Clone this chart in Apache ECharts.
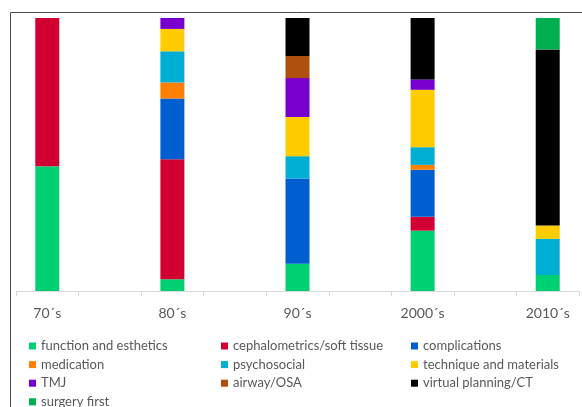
<!DOCTYPE html>
<html>
<head>
<meta charset="utf-8">
<script src="https://cdn.jsdelivr.net/npm/echarts@6/dist/echarts.min.js"></script>
<style>
  html, body { margin: 0; padding: 0; background: #fff; }
  #chart { width: 582px; height: 407px; }
</style>
</head>
<body>
<div id="chart"></div>
<script>
// Decades, with blank spacer slots between them on the axis
const categories = ['70´s', '', '80´s', '', '90´s', '', '2000´s', '', '2010´s'];

// Share of publications per topic in each decade (%), '-' for spacer slots
const functionEsthetics  = [45.7, '-', 4.3,  '-', 10.0, '-', 22.1, '-', 5.9];
const cephalometrics     = [54.3, '-', 44.0, '-', 0,    '-', 5.1,  '-', 0];
const complications      = [0,    '-', 22.2, '-', 31.2, '-', 17.2, '-', 0];
const medication         = [0,    '-', 5.9,  '-', 0,    '-', 1.8,  '-', 0];
const psychosocial       = [0,    '-', 11.4, '-', 8.2,  '-', 6.5,  '-', 13.2];
const techniqueMaterials = [0,    '-', 8.2,  '-', 14.3, '-', 21.0, '-', 4.9];
const tmj                = [0,    '-', 4.0,  '-', 14.3, '-', 3.8,  '-', 0];
const airwayOsa          = [0,    '-', 0,    '-', 8.1,  '-', 0,    '-', 0];
const virtualPlanning    = [0,    '-', 0,    '-', 13.9, '-', 22.5, '-', 64.5];
const surgeryFirst       = [0,    '-', 0,    '-', 0,    '-', 0,    '-', 11.5];

const seriesDefs = [
  ['function and esthetics', functionEsthetics, '#00D072'],
  ['cephalometrics/soft tissue', cephalometrics, '#D20032'],
  ['complications', complications, '#005FD0'],
  ['medication', medication, '#FF8000'],
  ['psychosocial', psychosocial, '#00AED4'],
  ['technique and materials', techniqueMaterials, '#FFCC00'],
  ['TMJ', tmj, '#7800CF'],
  ['airway/OSA', airwayOsa, '#B0500F'],
  ['virtual planning/CT', virtualPlanning, '#000000'],
  ['surgery first', surgeryFirst, '#00AF50']
];

const FONT = 'Lato';
const TEXT = '#595959';

const legendColumns = [
  { left: 29,  names: ['function and esthetics', 'medication', 'TMJ', 'surgery first'] },
  { left: 221, names: ['cephalometrics/soft tissue', 'psychosocial', 'airway/OSA'] },
  { left: 411, names: ['complications', 'technique and materials', 'virtual planning/CT'] }
];

const chart = echarts.init(document.getElementById('chart'), null, { renderer: 'canvas' });

chart.setOption({
  animation: false,
  backgroundColor: '#fff',
  grid: { left: 16, right: 3, top: 18, bottom: 116, containLabel: false },
  xAxis: {
    type: 'category',
    data: categories,
    boundaryGap: true,
    axisLine: { lineStyle: { color: '#D9D9D9', width: 1 } },
    axisTick: { show: true, length: 5, lineStyle: { color: '#D9D9D9' } },
    axisLabel: { interval: 0, color: TEXT, fontFamily: FONT, fontSize: 14, margin: 15 }
  },
  yAxis: {
    type: 'value', min: 0, max: 100, show: false,
    splitLine: { show: false }
  },
  legend: legendColumns.map(col => ({
    orient: 'vertical',
    left: col.left,
    top: 338,
    width: 180,
    height: 120,
    data: col.names,
    icon: 'rect',
    itemWidth: 7,
    itemHeight: 7,
    itemGap: 2.6,
    padding: 0,
    selectedMode: false,
    textStyle: { color: TEXT, fontFamily: FONT, fontSize: 13, lineHeight: 16 }
  })),
  graphic: [{
    type: 'rect',
    silent: true,
    shape: { x: 10.5, y: 12.5, width: 700, height: 500 },
    style: { fill: null, stroke: '#4A4A4A', lineWidth: 1 }
  }],
  series: seriesDefs.map(([name, data, color]) => ({
    name,
    type: 'bar',
    stack: 'share',
    data,
    barWidth: 24,
    itemStyle: { color },
    emphasis: { disabled: true }
  }))
});
</script>
</body>
</html>
